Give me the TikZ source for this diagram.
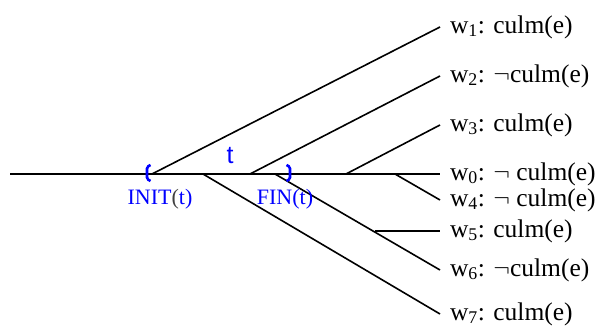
\documentclass[tikz,border=0pt]{standalone}
\usepackage{fontspec}
\setmainfont{Liberation Serif}
\newfontfamily\tsans{Liberation Sans}
\begin{document}
\begin{tikzpicture}[x=1pt, y=1pt, every node/.style={font=\fontsize{25.5}{28}\selectfont}]
  \tikzstyle{world}=[anchor=west,inner xsep=10pt,inner ysep=0pt,outer sep=0pt]
  \tikzstyle{branch}=[line width=1.6pt]
  \tikzstyle{brack}=[blue,line width=2.6pt,rounded corners=1.5pt]
  \tikzstyle{ival}=[blue,font=\fontsize{22}{26}\selectfont]
  \useasboundingbox (0,0) rectangle (603,329);
  \coordinate (start) at (10,155);
  \coordinate (b1) at (152,155);
  \coordinate (b7) at (203,155);
  \coordinate (b2) at (250,155);
  \coordinate (b6) at (275,155);
  \coordinate (b3) at (346,155);
  \coordinate (b4) at (395,155);
  \coordinate (b5) at (375,98);
  \node[world] (w1) at (440,302) {w\textsubscript{1}: culm(e)};
  \node[world] (w2) at (440,253) {w\textsubscript{2}: $\neg$culm(e)};
  \node[world] (w3) at (440,204) {w\textsubscript{3}: culm(e)};
  \node[world] (w0) at (440,155) {w\textsubscript{0}: $\neg$ culm(e)};
  \node[world] (w4) at (440,129) {w\textsubscript{4}: $\neg$ culm(e)};
  \node[world] (w5) at (440,98) {w\textsubscript{5}: culm(e)};
  \node[world] (w6) at (440,59) {w\textsubscript{6}: $\neg$culm(e)};
  \node[world] (w7) at (440,15) {w\textsubscript{7}: culm(e)};
  \draw[branch] (start) -- (w0.west);
  \draw[branch] (b1) -- (w1.west);
  \draw[branch] (b2) -- (w2.west);
  \draw[branch] (b3) -- (w3.west);
  \draw[branch] (b4) -- (w4.west);
  \draw[branch] (b7) -- (w7.west);
  \draw[branch] (b6) -- (w6.west);
  \draw[branch] (b5) -- (w5.west);
  \draw[brack] (150.5,164) -- (147,162) -- (147,150) -- (150.5,148);
  \draw[brack] (286.5,164) -- (290,162) -- (290,150) -- (286.5,148);
  \node[blue,font=\tsans\fontsize{25}{28}\selectfont] (t) at (230,173) {t};
  \node[ival] (init) at (160,130) {INIT{\color{black!75}(}t)};
  \node[ival] (fin) at (285,130) {FIN(t)};
\end{tikzpicture}
\end{document}
